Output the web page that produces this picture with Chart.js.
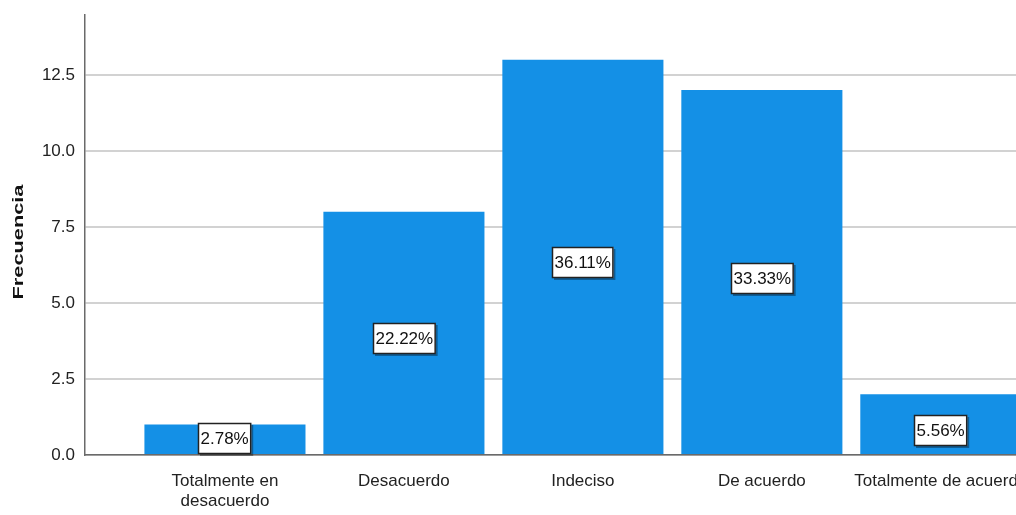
<!DOCTYPE html>
<html>
<head>
<meta charset="utf-8">
<script src="https://cdn.jsdelivr.net/npm/chart.js@4/dist/chart.umd.min.js"></script>
<style>
  html, body { margin: 0; padding: 0; background: #fff; overflow: hidden; }
  #wrap { width: 1016px; height: 515px; }
</style>
</head>
<body>
<div id="wrap"><canvas id="freq-chart"></canvas></div>
<script>
const categories = ['Totalmente en\ndesacuerdo', 'Desacuerdo', 'Indeciso', 'De acuerdo', 'Totalmente de acuerdo'];
const counts = [1, 8, 13, 12, 2];
const percents = ['2.78%', '22.22%', '36.11%', '33.33%', '5.56%'];
const yTicks = [0, 2.5, 5, 7.5, 10, 12.5];
const yTitle = 'Frecuencia';

const FONT = "'Liberation Sans', Arial, sans-serif";

// white boxes with the percentage, in the middle of each bar
const percentBoxes = {
    id: 'percentBoxes',
    afterDatasetsDraw(chart) {
        const ctx = chart.ctx;
        const meta = chart.getDatasetMeta(0);
        ctx.save();
        ctx.font = `17px ${FONT}`;
        ctx.textAlign = 'center';
        ctx.textBaseline = 'middle';
        meta.data.forEach((bar, i) => {
            let p = bar.getProps(['x', 'y', 'base'], true);
            let cy = (p.y + p.base) / 2 + 6;
            if (i == 0) cy = p.base - 16;
            let w = ctx.measureText(percents[i]).width + 5;
            let h = 31;
            let x0 = Math.round(p.x - w / 2), y0 = Math.round(cy - h / 2);
            ctx.fillStyle = 'rgba(0,0,0,0.35)';
            ctx.fillRect(x0 + 2, y0 + 2, w, h);
            ctx.fillStyle = '#fff';
            ctx.fillRect(x0, y0, w, h);
            ctx.strokeStyle = '#222';
            ctx.lineWidth = 1.5;
            ctx.strokeRect(x0 + 0.5, y0 + 0.5, w - 1, h - 1);
            ctx.fillStyle = '#111';
            ctx.fillText(percents[i], x0 + w / 2, y0 + h / 2 + 1);
        });
        ctx.restore();
    }
};

// y axis title, stretched along its length like the original
const axisTitle = {
    id: 'axisTitle',
    afterDraw(chart) {
        const ctx = chart.ctx;
        const area = chart.chartArea;
        ctx.save();
        ctx.translate(19, (area.top + area.bottom) / 2 + 7);
        ctx.rotate(-Math.PI / 2);
        ctx.scale(1.45, 1);
        ctx.font = `bold 15px ${FONT}`;
        ctx.textAlign = 'center';
        ctx.textBaseline = 'middle';
        ctx.fillStyle = '#111';
        ctx.fillText(yTitle, 0, 0);
        ctx.restore();
    }
};

new Chart(document.getElementById('freq-chart'), {
    type: 'bar',
    data: {
        datasets: [{
            label: yTitle,
            data: counts.map((c, i) => ({x: i, y: c})),
            backgroundColor: '#1490e6',
            borderWidth: 0,
            barPercentage: 0.9,
            categoryPercentage: 1.0
        }]
    },
    options: {
        responsive: true,
        maintainAspectRatio: false,
        animation: false,
        layout: { padding: { top: 15, left: 0, right: 0, bottom: 0 } },
        plugins: {
            legend: { display: false },
            tooltip: { enabled: false }
        },
        scales: {
            x: {
                type: 'linear',
                offset: false,
                min: -0.782,
                max: 4.42,
                grid: { display: false },
                border: { display: true, color: '#6a6a6a', width: 1.5 },
                ticks: {
                    stepSize: 1,
                    includeBounds: false,
                    autoSkip: false,
                    maxRotation: 0,
                    padding: 8,
                    color: '#222',
                    font: { family: FONT, size: 17 },
                    callback: (v) => Number.isInteger(v) && categories[v] ? categories[v].split('\n') : ''
                },
                afterFit: (s) => { s.height = 60; s.paddingLeft = 0; s.paddingRight = 0; }
            },
            y: {
                min: 0,
                max: 14.47,
                grid: { color: '#d2d2d2', lineWidth: 2, drawTicks: false },
                border: { display: true, color: '#6a6a6a', width: 1.5 },
                afterBuildTicks: (s) => { s.ticks = yTicks.map(v => ({value: v})); },
                ticks: {
                    padding: 10,
                    color: '#222',
                    font: { family: FONT, size: 17 },
                    callback: (v) => v.toFixed(1)
                },
                afterFit: (s) => { s.width = 85; s.paddingTop = 0; s.paddingBottom = 0; }
            }
        }
    },
    plugins: [percentBoxes, axisTitle]
});
</script>
</body>
</html>
